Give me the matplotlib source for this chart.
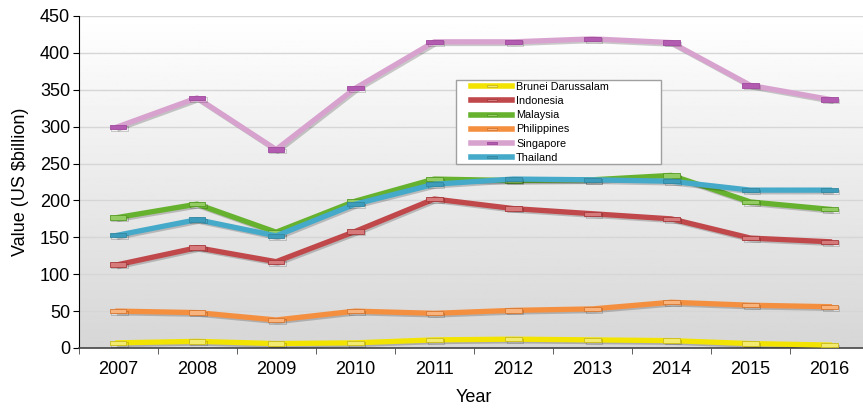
import matplotlib
matplotlib.use("Agg")
import matplotlib.pyplot as plt
import matplotlib.patheffects as pe
from matplotlib.path import Path
from matplotlib.patches import Rectangle
import numpy as np

plt.rcParams["font.family"] = ["Liberation Sans", "DejaVu Sans"]

years = ["2007", "2008", "2009", "2010", "2011", "2012", "2013", "2014", "2015", "2016"]
brunei = [7, 9, 6, 7, 11, 12, 11, 10, 6, 4]
indonesia = [113, 136, 117, 158, 202, 189, 182, 175, 149, 144]
malaysia = [177, 195, 157, 199, 229, 227, 228, 234, 198, 188]
philippines = [50, 48, 38, 50, 47, 51, 53, 62, 58, 56]
singapore = [300, 339, 269, 352, 415, 415, 419, 414, 356, 337]
thailand = [153, 174, 152, 195, 222, 229, 228, 226, 214, 214]

# name, values, line colour, marker face, marker edge
series = [
    ("Brunei Darussalam", brunei, "#f2e400", "#f3ea70", "#c9bb1c"),
    ("Indonesia", indonesia, "#c0474a", "#d77a7c", "#a63a3d"),
    ("Malaysia", malaysia, "#66b22e", "#92cc62", "#579c26"),
    ("Philippines", philippines, "#f58f40", "#f9b47e", "#d57833"),
    ("Singapore", singapore, "#d8a2cf", "#b35ab1", "#a04a9e"),
    ("Thailand", thailand, "#45a9c9", "#3d9cbc", "#34889f"),
]

# flat rectangle marker
rect = Path([(-1, -0.26), (1, -0.26), (1, 0.26), (-1, 0.26), (-1, -0.26)],
            [Path.MOVETO, Path.LINETO, Path.LINETO, Path.LINETO, Path.CLOSEPOLY])

fig = plt.figure(figsize=(8.63, 4.08), dpi=100)
ax = fig.add_axes([78.5 / 863, 1 - 348 / 408, (869 - 78.5) / 863, (348 - 16) / 408])

# gradient background
grad = np.linspace(1.0, 0.84, 256).reshape(-1, 1)
ax.imshow(grad, cmap="gray", vmin=0, vmax=1, aspect="auto",
          extent=(0, 1, 0, 1), transform=ax.transAxes, zorder=0)

x = np.arange(len(years))
for name, vals, c, mfc, mec in series:
    ax.plot(x, vals, color=c, lw=3.8, marker=rect, ms=12, mfc=mfc, mec=mec,
            mew=0.6, label=name, zorder=3,
            path_effects=[pe.SimpleLineShadow(offset=(1.2, -1.2), alpha=0.2),
                          pe.Normal()])

ax.set_xlim(-0.5, 9.5)
ax.set_ylim(0, 450)
ax.set_yticks(np.arange(0, 451, 50))
ax.set_xticks(x)
ax.set_xticklabels(years)
ax.set_xticks(np.arange(-0.5, 10, 1), minor=True)
ax.tick_params(axis="x", which="major", length=0, pad=9, labelsize=13)
ax.tick_params(axis="x", which="minor", length=4, color="#444444")
ax.tick_params(axis="y", length=4, labelsize=13, pad=2)
ax.grid(axis="y", color="#d6d6d6", lw=1, zorder=1)
ax.set_axisbelow(True)

for s in ("top", "right"):
    ax.spines[s].set_visible(False)
ax.spines["left"].set_color("black")
ax.spines["bottom"].set_color("#444444")
ax.spines["bottom"].set_linewidth(1.2)

ax.set_xlabel("Year", fontsize=13, labelpad=8)
ax.set_ylabel("Value (US $billion)", fontsize=13, labelpad=8)

# legend box drawn separately so the inner padding can differ by side
fig.patches.append(Rectangle((456 / 863, 1 - 164 / 408), 205 / 863, 84 / 408,
                             transform=fig.transFigure, facecolor="white",
                             edgecolor="#a0a0a0", lw=1, zorder=5))
leg = fig.legend(loc="upper left", bbox_to_anchor=(470 / 863, 1 - 81 / 408),
                 fontsize=7.8, frameon=False, handlelength=3.8,
                 handletextpad=0.35, labelspacing=0.38, borderpad=0.1,
                 borderaxespad=0, markerscale=0.6, numpoints=1)
leg.set_zorder(6)
for h in leg.legend_handles:
    h.set_path_effects([])
    h.set_linewidth(4)

fig.savefig("out.png", dpi=100)
